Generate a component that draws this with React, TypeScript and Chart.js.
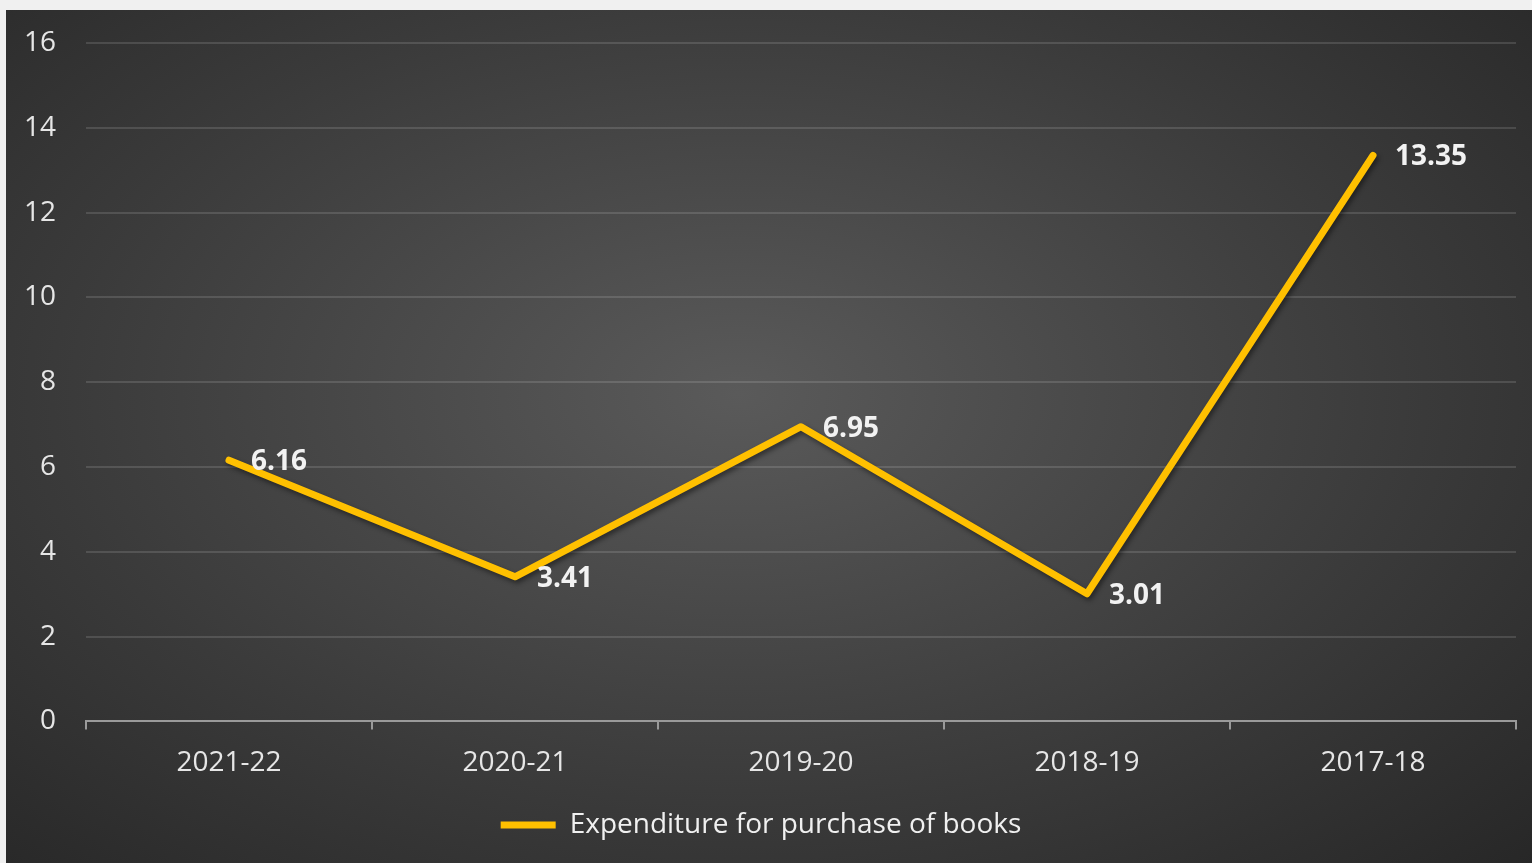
import React, { useEffect, useRef } from "react";
import { Chart, registerables } from "chart.js";

Chart.register(...registerables);

const categories = ["2021-22", "2020-21", "2019-20", "2018-19", "2017-18"];
const expenditure = [6.16, 3.41, 6.95, 3.01, 13.35];
const seriesName = "Expenditure for purchase of books";
const yTicks = [0, 2, 4, 6, 8, 10, 12, 14, 16];

const FONT = "'Open Sans', 'Liberation Sans', sans-serif";

const dataLabelPlugin = {
  id: "dataLabels",
  afterDatasetsDraw(chart: any) {
    const ctx = chart.ctx;
    const meta = chart.getDatasetMeta(0);
    const ds = chart.data.datasets[0];
    ctx.save();
    ctx.font = `bold 28px ${FONT}`;
    ctx.fillStyle = "#f2f2f2";
    ctx.textAlign = "left";
    ctx.textBaseline = "middle";
    meta.data.forEach((pt: any, i: number) => {
      ctx.fillText(ds.data[i].toFixed(2), pt.x + 22, pt.y + 2);
    });
    ctx.restore();
  },
};

const shadowPlugin = {
  id: "lineShadow",
  beforeDatasetDraw(chart: any) {
    const ctx = chart.ctx;
    ctx.save();
    ctx.shadowColor = "rgba(0,0,0,0.45)";
    ctx.shadowBlur = 5;
    ctx.shadowOffsetX = 2;
    ctx.shadowOffsetY = 3;
  },
  afterDatasetDraw(chart: any) {
    chart.ctx.restore();
  },
};

export default function App() {
  const ref = useRef<HTMLCanvasElement | null>(null);

  useEffect(() => {
    document.body.style.margin = "0";
    document.body.style.background = "#f0f0f0";
    const canvas = ref.current;
    if (!canvas) return;
    const chart = new Chart(canvas, {
      type: "line",
      data: {
        labels: categories,
        datasets: [
          {
            label: seriesName,
            data: expenditure,
            borderColor: "#FFC000",
            backgroundColor: "#FFC000",
            borderWidth: 7,
            borderCapStyle: "round",
            borderJoinStyle: "round",
            pointRadius: 0,
            pointHoverRadius: 0,
            tension: 0,
          },
        ],
      },
      options: {
        responsive: false,
        animation: false,
        layout: { padding: { top: 33, right: 16, left: 0, bottom: 14 } },
        plugins: {
          tooltip: { enabled: false },
          legend: {
            position: "bottom",
            labels: {
              font: { family: FONT, size: 28 },
              color: "#f0f0f0",
              boxWidth: 55,
              boxHeight: 7,
              padding: 14,
              generateLabels: () => [
                {
                  text: seriesName,
                  fillStyle: "#FFC000",
                  strokeStyle: "#FFC000",
                  lineWidth: 0,
                  hidden: false,
                  datasetIndex: 0,
                  fontColor: "#f0f0f0",
                },
              ],
            },
          },
        },
        scales: {
          x: {
            offset: true,
            grid: {
              display: true,
              offset: true,
              drawOnChartArea: false,
              drawTicks: true,
              tickLength: 8,
              color: "#9a9a9a",
              lineWidth: 2,
            },
            border: { display: true, color: "#9a9a9a", width: 2 },
            ticks: {
              font: { family: FONT, size: 28 },
              color: "#e6e6e6",
              padding: 17,
              maxRotation: 0,
            },
          },
          y: {
            min: 0,
            max: 16,
            afterBuildTicks: (scale: any) => {
              scale.ticks = yTicks.map((v) => ({ value: v }));
            },
            afterFit: (scale: any) => {
              scale.width = 80;
            },
            grid: {
              color: "rgba(255,255,255,0.13)",
              lineWidth: 2,
              drawTicks: true,
              tickLength: 30,
              tickColor: "rgba(0,0,0,0)",
            },
            border: { display: false },
            ticks: {
              font: { family: FONT, size: 28 },
              color: "#e6e6e6",
              padding: 0,
            },
          },
        },
      },
      plugins: [shadowPlugin, dataLabelPlugin],
    } as any);
    return () => chart.destroy();
  }, []);

  return (
    <div
      style={{
        position: "absolute",
        left: 6,
        top: 10,
        width: 1526,
        height: 853,
        background:
          "radial-gradient(ellipse 75% 80% at 48% 45%, #5a5a5a 0%, #3a3a3a 60%, #262626 100%)",
      }}
    >
      <canvas ref={ref} width={1526} height={853} style={{ display: "block" }} />
    </div>
  );
}
